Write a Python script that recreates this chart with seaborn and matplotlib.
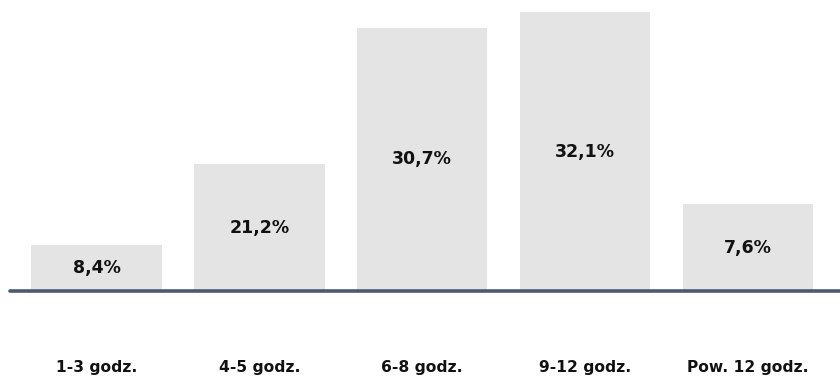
import matplotlib
matplotlib.use("Agg")
import matplotlib.pyplot as plt
import seaborn as sns
import pandas as pd

categories = ["1-3 godz.", "4-5 godz.", "6-8 godz.", "9-12 godz.", "Pow. 12 godz."]
value_labels = ["8,4%", "21,2%", "30,7%", "32,1%", "7,6%"]
# bar heights as drawn in the picture (same scale as percent, 32.1 = tallest)
bar_heights = [5.3, 14.6, 30.3, 32.1, 10.0]

df = pd.DataFrame({"cat": categories, "h": bar_heights, "lab": value_labels})

sns.set_theme(style="white")
plt.rcParams["font.family"] = ["DejaVu Sans"]

fig = plt.figure(figsize=(8.4, 3.76), dpi=100)
ax = fig.add_axes([10 / 840, 85 / 376, 830 / 840, 291 / 376])

sns.barplot(data=df, x="cat", y="h", color="#e4e4e4", saturation=1,
            width=0.80, ax=ax, edgecolor="none")

for i, (h, lab) in enumerate(zip(bar_heights, value_labels)):
    ax.text(i, h / 2, lab, ha="center", va="center", fontsize=12.5,
            fontweight="bold", color="#111111")

ax.set_xlim(-0.531, 4.565)
ax.set_ylim(0, 33.5)
ax.axhline(0, color="#4a5a70", linewidth=2.6, zorder=5, clip_on=False)

for s in ax.spines.values():
    s.set_visible(False)
ax.set_yticks([])
ax.set_xlabel("")
ax.set_ylabel("")
ax.tick_params(axis="x", length=0, pad=50)
for t in ax.get_xticklabels():
    t.set_fontweight("bold")
    t.set_fontsize(11.2)
    t.set_color("#111111")

fig.savefig("out.png", dpi=100)
